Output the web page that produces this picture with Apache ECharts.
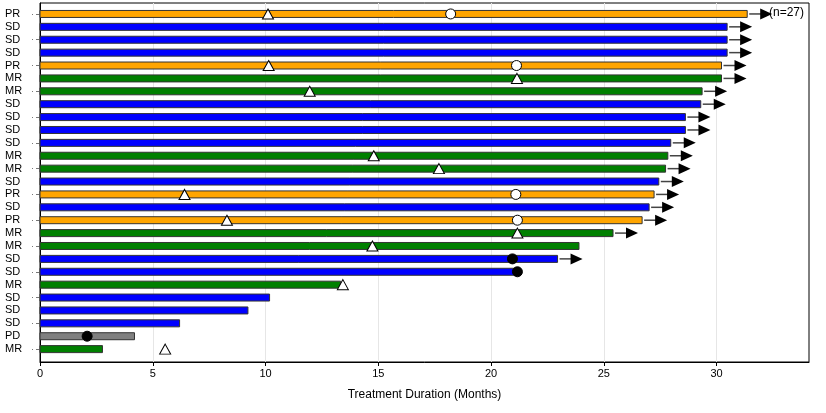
<!DOCTYPE html>
<html><head><meta charset="utf-8">
<script src="https://cdn.jsdelivr.net/npm/echarts@6/dist/echarts.min.js"></script>
<style>html,body{margin:0;padding:0;background:#fff}#c{width:826px;height:413px}</style>
</head><body><div id="c"></div>
<script>
// Rows listed top to bottom
const responses = ['PR','SD','SD','SD','PR','MR','MR','SD','SD','SD','SD','MR','MR','SD','PR','SD','PR','MR','MR','SD','SD','MR','SD','SD','SD','PD','MR'];
const durations = [31.36,30.47,30.47,30.47,30.22,30.22,29.36,29.30,28.62,28.62,27.97,27.84,27.74,27.44,27.23,27.01,26.70,25.41,23.90,22.95,21.13,13.33,10.18,9.22,6.19,4.19,2.77];
const ongoing = [1,1,1,1,1,1,1,1,1,1,1,1,1,1,1,1,1,1,0,1,0,0,0,0,0,0,0];
// [row index from top (0-based), months]
const openTriangles = [[0,10.11],[4,10.14],[5,21.15],[6,11.96],[11,14.8],[12,17.69],[14,6.41],[16,8.29],[17,21.17],[18,14.74],[21,13.43],[26,5.55]];
const openCircles = [[0,18.21],[4,21.13],[14,21.1],[16,21.17]];
const filledCircles = [[19,20.95],[20,21.17],[25,2.09]];
const xTicks = [0,5,10,15,20,25,30];
const nLabel = '(n=27)';

const N = responses.length;
const colorMap = {PR:'#FFA500', SD:'#0000FF', MR:'#008000', PD:'#808080'};
const yv = i => N - i;  // top row -> 27

const barData = durations.map((d,i)=>[d, yv(i), i]);
const arrowData = durations.map((d,i)=>[d, yv(i), i]).filter(r=>ongoing[r[2]]);
const tri = openTriangles.map(p=>[p[1], yv(p[0])]);
const oc = openCircles.map(p=>[p[1], yv(p[0])]);
const fc = filledCircles.map(p=>[p[1], yv(p[0])]);
const rowVals = responses.map((r,i)=>yv(i));
const tickVals = rowVals.filter(v=>v%2===1);

const chart = echarts.init(document.getElementById('c'));
const font = 'Liberation Sans, Arial, sans-serif';
chart.setOption({
  animation:false,
  grid:{left:40,right:17,top:3,bottom:51,show:true,borderColor:'#000',borderWidth:1,containLabel:false},
  xAxis:{type:'value',min:0,max:34.1,interval:5,
    axisLine:{lineStyle:{color:'#000'}},
    axisTick:{show:true,length:4,lineStyle:{color:'#000'},customValues:xTicks},
    axisLabel:{color:'#000',fontFamily:font,fontSize:11,margin:6,customValues:xTicks},
    splitLine:{show:true,lineStyle:{color:'#e6e6e6'}},
    name:'Treatment Duration (Months)',nameLocation:'middle',nameGap:27,
    nameTextStyle:{color:'#000',fontFamily:font,fontSize:12}},
  yAxis:{type:'value',min:0,max:27.85,
    axisLine:{show:true,lineStyle:{color:'#000'}},
    axisTick:{show:true,length:8,customValues:tickVals,lineStyle:{color:'#777',type:[4,3,1]}},
    axisLabel:{color:'#000',fontFamily:font,fontSize:11,align:'left',margin:35,customValues:rowVals,
      formatter:v=>responses[N - Math.round(v)]},
    splitLine:{show:false}},
  graphic:[{type:'text',left:769,top:7,style:{text:nLabel,font:'12px '+font,fill:'#000'}}],
  series:[
    {type:'custom',data:barData,z:2,
      renderItem:(params,api)=>{
        const d=api.value(0), y=api.value(1), i=api.value(2);
        const p0=api.coord([0,y]), p1=api.coord([d,y]);
        return {type:'rect',shape:{x:p0[0],y:p0[1]-3.5,width:p1[0]-p0[0],height:7},
          style:{fill:colorMap[responses[i]],stroke:'#333',lineWidth:1}};
      }},
    {type:'custom',data:arrowData,z:3,
      renderItem:(params,api)=>{
        const d=api.value(0), y=api.value(1);
        const p=api.coord([d,y]);
        const x0=p[0]+2, y0=p[1];
        return {type:'group',children:[
          {type:'line',shape:{x1:x0,y1:y0,x2:x0+12,y2:y0},style:{stroke:'#444',lineWidth:1.5}},
          {type:'polygon',shape:{points:[[x0+11,y0-5.5],[x0+23,y0],[x0+11,y0+5.5]]},style:{fill:'#000'}}
        ]};
      }},
    {type:'scatter',data:tri,symbol:'triangle',symbolSize:[11,10],z:5,
      itemStyle:{color:'#fff',borderColor:'#000',borderWidth:1,opacity:1}},
    {type:'scatter',data:oc,symbol:'circle',symbolSize:10,z:5,
      itemStyle:{color:'#fff',borderColor:'#000',borderWidth:1,opacity:1}},
    {type:'scatter',data:fc,symbol:'circle',symbolSize:10,z:5,
      itemStyle:{color:'#000',borderColor:'#000',borderWidth:1,opacity:1}}
  ]
});
</script></body></html>
